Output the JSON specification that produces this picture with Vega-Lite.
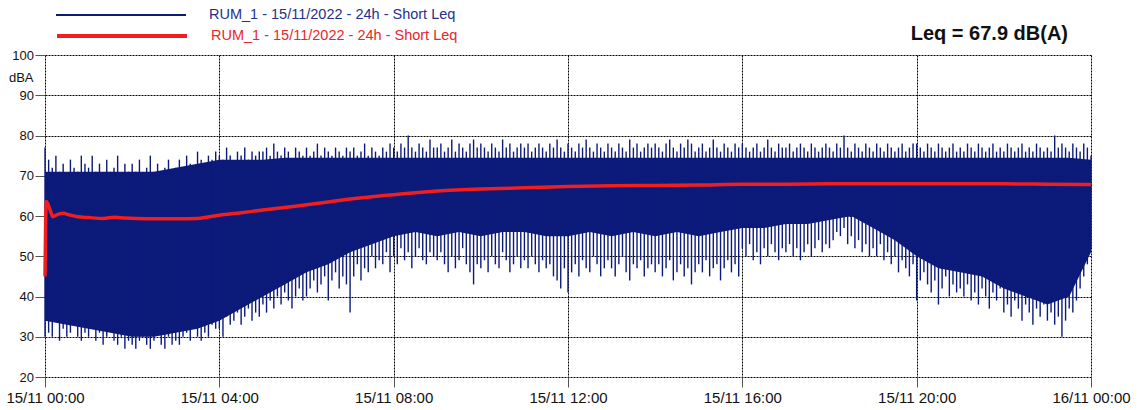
{
  "$schema": "https://vega.github.io/schema/vega-lite/v6.json",
  "autosize": "none",
  "width": 1046,
  "height": 322,
  "padding": {"left": 45, "top": 55, "right": 47, "bottom": 33},
  "background": "white",
  "title": {"text": "Leq = 67.9 dB(A)", "anchor": "end", "frame": "group", "fontSize": 20, "fontWeight": "bold", "font": "Liberation Sans", "color": "#111111", "offset": -95, "dx": -23},
  "config": {
    "view": {"stroke": null},
    "font": "Liberation Sans",
    "axis": {"domain": false, "grid": true, "gridColor": "#000000", "gridDash": [2, 1], "gridWidth": 1, "gridOpacity": 1, "tickColor": "#555555", "tickSize": 10, "labelColor": "#111111", "labelFont": "Liberation Sans"}
  },
  "datasets": {
    "core": [
      {"m": 0, "clo": 34, "chi": 71}, {"m": 30, "clo": 33, "chi": 71}, {"m": 60, "clo": 32, "chi": 71}, {"m": 90, "clo": 31, "chi": 71},
      {"m": 120, "clo": 30, "chi": 71}, {"m": 150, "clo": 30, "chi": 71}, {"m": 180, "clo": 31, "chi": 72}, {"m": 210, "clo": 32, "chi": 73},
      {"m": 240, "clo": 34, "chi": 74}, {"m": 270, "clo": 37, "chi": 74}, {"m": 300, "clo": 40, "chi": 74}, {"m": 330, "clo": 43, "chi": 74.5},
      {"m": 360, "clo": 46, "chi": 74.5}, {"m": 390, "clo": 48, "chi": 74.5}, {"m": 420, "clo": 51, "chi": 74.5}, {"m": 450, "clo": 53, "chi": 74.5},
      {"m": 480, "clo": 55, "chi": 74.5}, {"m": 510, "clo": 56, "chi": 74.5}, {"m": 540, "clo": 55, "chi": 74.5}, {"m": 570, "clo": 56, "chi": 74.5},
      {"m": 600, "clo": 55, "chi": 74.5}, {"m": 630, "clo": 56, "chi": 74.5}, {"m": 660, "clo": 56, "chi": 74.5}, {"m": 690, "clo": 55, "chi": 74.5},
      {"m": 720, "clo": 55, "chi": 74.5}, {"m": 750, "clo": 56, "chi": 74.5}, {"m": 780, "clo": 55, "chi": 74.5}, {"m": 810, "clo": 56, "chi": 74.5},
      {"m": 840, "clo": 55, "chi": 74.5}, {"m": 870, "clo": 56, "chi": 74.5}, {"m": 900, "clo": 55, "chi": 74.5}, {"m": 930, "clo": 56, "chi": 74.5},
      {"m": 960, "clo": 57, "chi": 74.5}, {"m": 990, "clo": 57, "chi": 74.5}, {"m": 1020, "clo": 58, "chi": 74.5}, {"m": 1050, "clo": 58, "chi": 74.5},
      {"m": 1080, "clo": 59, "chi": 74.5}, {"m": 1110, "clo": 60, "chi": 74.5}, {"m": 1140, "clo": 57, "chi": 74.5}, {"m": 1170, "clo": 54, "chi": 74.5},
      {"m": 1200, "clo": 50, "chi": 74.5}, {"m": 1230, "clo": 47, "chi": 74.5}, {"m": 1260, "clo": 46, "chi": 74.5}, {"m": 1290, "clo": 45, "chi": 74.5},
      {"m": 1320, "clo": 42, "chi": 74.5}, {"m": 1350, "clo": 40, "chi": 74.5}, {"m": 1380, "clo": 38, "chi": 74.5}, {"m": 1410, "clo": 40, "chi": 74.5},
      {"m": 1440, "clo": 51, "chi": 74}
    ],
    "spikes": [
      {"m": 0, "lo": 30, "hi": 77}, {"m": 5, "lo": 31, "hi": 74}, {"m": 10, "lo": 30, "hi": 72}, {"m": 15, "lo": 34, "hi": 75},
      {"m": 20, "lo": 29, "hi": 71}, {"m": 25, "lo": 32, "hi": 73}, {"m": 30, "lo": 30, "hi": 70}, {"m": 35, "lo": 31, "hi": 74},
      {"m": 40, "lo": 33, "hi": 72}, {"m": 45, "lo": 30, "hi": 71}, {"m": 50, "lo": 29, "hi": 75}, {"m": 55, "lo": 31, "hi": 73},
      {"m": 60, "lo": 30, "hi": 72}, {"m": 65, "lo": 32, "hi": 75}, {"m": 70, "lo": 29, "hi": 71}, {"m": 75, "lo": 31, "hi": 73},
      {"m": 80, "lo": 28, "hi": 70}, {"m": 85, "lo": 30, "hi": 74}, {"m": 90, "lo": 33, "hi": 71}, {"m": 95, "lo": 29, "hi": 72},
      {"m": 100, "lo": 28, "hi": 75}, {"m": 105, "lo": 30, "hi": 70}, {"m": 110, "lo": 27, "hi": 73}, {"m": 115, "lo": 29, "hi": 71},
      {"m": 120, "lo": 28, "hi": 73}, {"m": 125, "lo": 27, "hi": 71}, {"m": 130, "lo": 29, "hi": 74}, {"m": 135, "lo": 30, "hi": 70},
      {"m": 140, "lo": 28, "hi": 72}, {"m": 145, "lo": 27, "hi": 75}, {"m": 150, "lo": 29, "hi": 71}, {"m": 155, "lo": 31, "hi": 73},
      {"m": 160, "lo": 28, "hi": 70}, {"m": 165, "lo": 27, "hi": 72}, {"m": 170, "lo": 30, "hi": 74}, {"m": 175, "lo": 28, "hi": 71},
      {"m": 180, "lo": 29, "hi": 72}, {"m": 185, "lo": 28, "hi": 74}, {"m": 190, "lo": 30, "hi": 71}, {"m": 195, "lo": 31, "hi": 75},
      {"m": 200, "lo": 29, "hi": 73}, {"m": 205, "lo": 32, "hi": 72}, {"m": 210, "lo": 30, "hi": 76}, {"m": 215, "lo": 29, "hi": 74},
      {"m": 220, "lo": 31, "hi": 73}, {"m": 225, "lo": 30, "hi": 75}, {"m": 230, "lo": 33, "hi": 74}, {"m": 235, "lo": 32, "hi": 76},
      {"m": 240, "lo": 32, "hi": 75}, {"m": 245, "lo": 30, "hi": 74}, {"m": 250, "lo": 35, "hi": 77}, {"m": 255, "lo": 33, "hi": 75},
      {"m": 260, "lo": 34, "hi": 73}, {"m": 265, "lo": 36, "hi": 76}, {"m": 270, "lo": 33, "hi": 75}, {"m": 275, "lo": 35, "hi": 77},
      {"m": 280, "lo": 37, "hi": 74}, {"m": 285, "lo": 34, "hi": 76}, {"m": 290, "lo": 36, "hi": 75}, {"m": 295, "lo": 35, "hi": 76},
      {"m": 300, "lo": 38, "hi": 76}, {"m": 305, "lo": 36, "hi": 77}, {"m": 310, "lo": 39, "hi": 75}, {"m": 315, "lo": 37, "hi": 78},
      {"m": 320, "lo": 40, "hi": 76}, {"m": 325, "lo": 38, "hi": 75}, {"m": 330, "lo": 41, "hi": 77}, {"m": 335, "lo": 39, "hi": 76},
      {"m": 340, "lo": 37, "hi": 74}, {"m": 345, "lo": 40, "hi": 77}, {"m": 350, "lo": 42, "hi": 76}, {"m": 355, "lo": 39, "hi": 75},
      {"m": 360, "lo": 40, "hi": 77}, {"m": 365, "lo": 42, "hi": 75}, {"m": 370, "lo": 44, "hi": 76}, {"m": 375, "lo": 41, "hi": 78},
      {"m": 380, "lo": 43, "hi": 75}, {"m": 385, "lo": 45, "hi": 77}, {"m": 390, "lo": 39, "hi": 76}, {"m": 395, "lo": 44, "hi": 75},
      {"m": 400, "lo": 46, "hi": 77}, {"m": 405, "lo": 42, "hi": 76}, {"m": 410, "lo": 45, "hi": 75}, {"m": 415, "lo": 43, "hi": 77},
      {"m": 420, "lo": 36, "hi": 76}, {"m": 425, "lo": 45, "hi": 77}, {"m": 430, "lo": 48, "hi": 75}, {"m": 435, "lo": 44, "hi": 76},
      {"m": 440, "lo": 47, "hi": 78}, {"m": 445, "lo": 46, "hi": 75}, {"m": 450, "lo": 50, "hi": 77}, {"m": 455, "lo": 47, "hi": 76},
      {"m": 460, "lo": 49, "hi": 75}, {"m": 465, "lo": 48, "hi": 77}, {"m": 470, "lo": 51, "hi": 76}, {"m": 475, "lo": 46, "hi": 78},
      {"m": 480, "lo": 50, "hi": 77}, {"m": 485, "lo": 48, "hi": 76}, {"m": 490, "lo": 52, "hi": 78}, {"m": 495, "lo": 49, "hi": 77},
      {"m": 500, "lo": 51, "hi": 80}, {"m": 505, "lo": 47, "hi": 77}, {"m": 510, "lo": 50, "hi": 76}, {"m": 515, "lo": 52, "hi": 78},
      {"m": 520, "lo": 49, "hi": 77}, {"m": 525, "lo": 48, "hi": 76}, {"m": 530, "lo": 51, "hi": 79}, {"m": 535, "lo": 50, "hi": 77},
      {"m": 540, "lo": 49, "hi": 77}, {"m": 545, "lo": 51, "hi": 78}, {"m": 550, "lo": 48, "hi": 76}, {"m": 555, "lo": 46, "hi": 77},
      {"m": 560, "lo": 50, "hi": 79}, {"m": 565, "lo": 47, "hi": 76}, {"m": 570, "lo": 49, "hi": 78}, {"m": 575, "lo": 52, "hi": 77},
      {"m": 580, "lo": 48, "hi": 76}, {"m": 585, "lo": 46, "hi": 78}, {"m": 590, "lo": 43, "hi": 79}, {"m": 595, "lo": 48, "hi": 77},
      {"m": 600, "lo": 47, "hi": 78}, {"m": 605, "lo": 49, "hi": 77}, {"m": 610, "lo": 46, "hi": 76}, {"m": 615, "lo": 50, "hi": 78},
      {"m": 620, "lo": 48, "hi": 77}, {"m": 625, "lo": 47, "hi": 76}, {"m": 630, "lo": 51, "hi": 79}, {"m": 635, "lo": 49, "hi": 77},
      {"m": 640, "lo": 46, "hi": 78}, {"m": 645, "lo": 48, "hi": 76}, {"m": 650, "lo": 50, "hi": 77}, {"m": 655, "lo": 47, "hi": 78},
      {"m": 660, "lo": 49, "hi": 77}, {"m": 665, "lo": 47, "hi": 78}, {"m": 670, "lo": 50, "hi": 76}, {"m": 675, "lo": 48, "hi": 77},
      {"m": 680, "lo": 46, "hi": 78}, {"m": 685, "lo": 49, "hi": 77}, {"m": 690, "lo": 47, "hi": 76}, {"m": 695, "lo": 48, "hi": 78},
      {"m": 700, "lo": 45, "hi": 77}, {"m": 705, "lo": 44, "hi": 79}, {"m": 710, "lo": 42, "hi": 77}, {"m": 715, "lo": 47, "hi": 76},
      {"m": 720, "lo": 41, "hi": 78}, {"m": 725, "lo": 46, "hi": 77}, {"m": 730, "lo": 48, "hi": 76}, {"m": 735, "lo": 45, "hi": 78},
      {"m": 740, "lo": 49, "hi": 77}, {"m": 745, "lo": 47, "hi": 79}, {"m": 750, "lo": 46, "hi": 77}, {"m": 755, "lo": 50, "hi": 76},
      {"m": 760, "lo": 48, "hi": 78}, {"m": 765, "lo": 45, "hi": 77}, {"m": 770, "lo": 47, "hi": 76}, {"m": 775, "lo": 49, "hi": 78},
      {"m": 780, "lo": 47, "hi": 77}, {"m": 785, "lo": 45, "hi": 76}, {"m": 790, "lo": 48, "hi": 78}, {"m": 795, "lo": 50, "hi": 77},
      {"m": 800, "lo": 46, "hi": 76}, {"m": 805, "lo": 44, "hi": 79}, {"m": 810, "lo": 48, "hi": 77}, {"m": 815, "lo": 47, "hi": 78},
      {"m": 820, "lo": 49, "hi": 76}, {"m": 825, "lo": 45, "hi": 77}, {"m": 830, "lo": 47, "hi": 78}, {"m": 835, "lo": 48, "hi": 77},
      {"m": 840, "lo": 46, "hi": 78}, {"m": 845, "lo": 48, "hi": 77}, {"m": 850, "lo": 45, "hi": 76}, {"m": 855, "lo": 47, "hi": 78},
      {"m": 860, "lo": 49, "hi": 79}, {"m": 865, "lo": 44, "hi": 77}, {"m": 870, "lo": 46, "hi": 76}, {"m": 875, "lo": 48, "hi": 78},
      {"m": 880, "lo": 45, "hi": 77}, {"m": 885, "lo": 47, "hi": 79}, {"m": 890, "lo": 43, "hi": 78}, {"m": 895, "lo": 46, "hi": 76},
      {"m": 900, "lo": 48, "hi": 77}, {"m": 905, "lo": 46, "hi": 78}, {"m": 910, "lo": 49, "hi": 76}, {"m": 915, "lo": 45, "hi": 77},
      {"m": 920, "lo": 47, "hi": 79}, {"m": 925, "lo": 48, "hi": 77}, {"m": 930, "lo": 44, "hi": 76}, {"m": 935, "lo": 47, "hi": 78},
      {"m": 940, "lo": 49, "hi": 77}, {"m": 945, "lo": 46, "hi": 76}, {"m": 950, "lo": 48, "hi": 78}, {"m": 955, "lo": 45, "hi": 77},
      {"m": 960, "lo": 52, "hi": 78}, {"m": 965, "lo": 50, "hi": 77}, {"m": 970, "lo": 53, "hi": 76}, {"m": 975, "lo": 49, "hi": 77},
      {"m": 980, "lo": 51, "hi": 78}, {"m": 985, "lo": 48, "hi": 76}, {"m": 990, "lo": 52, "hi": 77}, {"m": 995, "lo": 50, "hi": 79},
      {"m": 1000, "lo": 53, "hi": 77}, {"m": 1005, "lo": 51, "hi": 76}, {"m": 1010, "lo": 49, "hi": 78}, {"m": 1015, "lo": 52, "hi": 77},
      {"m": 1020, "lo": 51, "hi": 77}, {"m": 1025, "lo": 53, "hi": 78}, {"m": 1030, "lo": 50, "hi": 76}, {"m": 1035, "lo": 52, "hi": 77},
      {"m": 1040, "lo": 49, "hi": 78}, {"m": 1045, "lo": 51, "hi": 77}, {"m": 1050, "lo": 53, "hi": 76}, {"m": 1055, "lo": 50, "hi": 78},
      {"m": 1060, "lo": 52, "hi": 77}, {"m": 1065, "lo": 54, "hi": 76}, {"m": 1070, "lo": 51, "hi": 77}, {"m": 1075, "lo": 53, "hi": 78},
      {"m": 1080, "lo": 52, "hi": 77}, {"m": 1085, "lo": 54, "hi": 76}, {"m": 1090, "lo": 56, "hi": 78}, {"m": 1095, "lo": 55, "hi": 77},
      {"m": 1100, "lo": 57, "hi": 80}, {"m": 1105, "lo": 53, "hi": 77}, {"m": 1110, "lo": 55, "hi": 76}, {"m": 1115, "lo": 52, "hi": 78},
      {"m": 1120, "lo": 54, "hi": 77}, {"m": 1125, "lo": 51, "hi": 76}, {"m": 1130, "lo": 53, "hi": 78}, {"m": 1135, "lo": 50, "hi": 77},
      {"m": 1140, "lo": 52, "hi": 76}, {"m": 1145, "lo": 50, "hi": 78}, {"m": 1150, "lo": 53, "hi": 77}, {"m": 1155, "lo": 49, "hi": 76},
      {"m": 1160, "lo": 51, "hi": 78}, {"m": 1165, "lo": 48, "hi": 77}, {"m": 1170, "lo": 50, "hi": 76}, {"m": 1175, "lo": 46, "hi": 77},
      {"m": 1180, "lo": 49, "hi": 78}, {"m": 1185, "lo": 47, "hi": 76}, {"m": 1190, "lo": 45, "hi": 77}, {"m": 1195, "lo": 48, "hi": 78},
      {"m": 1200, "lo": 39, "hi": 78}, {"m": 1205, "lo": 44, "hi": 77}, {"m": 1210, "lo": 46, "hi": 76}, {"m": 1215, "lo": 43, "hi": 78},
      {"m": 1220, "lo": 41, "hi": 77}, {"m": 1225, "lo": 44, "hi": 76}, {"m": 1230, "lo": 38, "hi": 78}, {"m": 1235, "lo": 42, "hi": 77},
      {"m": 1240, "lo": 45, "hi": 76}, {"m": 1245, "lo": 40, "hi": 77}, {"m": 1250, "lo": 43, "hi": 78}, {"m": 1255, "lo": 41, "hi": 76},
      {"m": 1260, "lo": 42, "hi": 77}, {"m": 1265, "lo": 40, "hi": 76}, {"m": 1270, "lo": 43, "hi": 78}, {"m": 1275, "lo": 39, "hi": 77},
      {"m": 1280, "lo": 41, "hi": 76}, {"m": 1285, "lo": 38, "hi": 78}, {"m": 1290, "lo": 42, "hi": 77}, {"m": 1295, "lo": 40, "hi": 76},
      {"m": 1300, "lo": 37, "hi": 77}, {"m": 1305, "lo": 41, "hi": 78}, {"m": 1310, "lo": 39, "hi": 76}, {"m": 1315, "lo": 42, "hi": 77},
      {"m": 1320, "lo": 36, "hi": 76}, {"m": 1325, "lo": 38, "hi": 78}, {"m": 1330, "lo": 35, "hi": 77}, {"m": 1335, "lo": 39, "hi": 76},
      {"m": 1340, "lo": 37, "hi": 77}, {"m": 1345, "lo": 34, "hi": 78}, {"m": 1350, "lo": 38, "hi": 76}, {"m": 1355, "lo": 36, "hi": 77},
      {"m": 1360, "lo": 33, "hi": 76}, {"m": 1365, "lo": 37, "hi": 78}, {"m": 1370, "lo": 35, "hi": 77}, {"m": 1375, "lo": 38, "hi": 76},
      {"m": 1380, "lo": 34, "hi": 77}, {"m": 1385, "lo": 36, "hi": 76}, {"m": 1390, "lo": 33, "hi": 80}, {"m": 1395, "lo": 35, "hi": 77},
      {"m": 1400, "lo": 30, "hi": 78}, {"m": 1405, "lo": 34, "hi": 77}, {"m": 1410, "lo": 37, "hi": 76}, {"m": 1415, "lo": 36, "hi": 78},
      {"m": 1420, "lo": 39, "hi": 77}, {"m": 1425, "lo": 42, "hi": 76}, {"m": 1430, "lo": 45, "hi": 78}, {"m": 1435, "lo": 48, "hi": 77},
      {"m": 1440, "lo": 52, "hi": 75}
    ],
    "leq": [
      {"m": 0, "v": 45}, {"m": 1, "v": 60}, {"m": 2, "v": 63.6}, {"m": 4, "v": 63}, {"m": 7, "v": 61.5},
      {"m": 11, "v": 59.8}, {"m": 16, "v": 60.3}, {"m": 25, "v": 60.7}, {"m": 33, "v": 60.3}, {"m": 45, "v": 59.8},
      {"m": 60, "v": 59.6}, {"m": 80, "v": 59.4}, {"m": 96, "v": 59.7}, {"m": 110, "v": 59.5}, {"m": 140, "v": 59.3},
      {"m": 180, "v": 59.3}, {"m": 210, "v": 59.4}, {"m": 240, "v": 60.2}, {"m": 270, "v": 60.8}, {"m": 300, "v": 61.5},
      {"m": 330, "v": 62.1}, {"m": 360, "v": 62.8}, {"m": 390, "v": 63.5}, {"m": 420, "v": 64.2}, {"m": 450, "v": 64.8},
      {"m": 480, "v": 65.3}, {"m": 510, "v": 65.8}, {"m": 540, "v": 66.2}, {"m": 600, "v": 66.7}, {"m": 660, "v": 67},
      {"m": 720, "v": 67.3}, {"m": 780, "v": 67.5}, {"m": 840, "v": 67.6}, {"m": 900, "v": 67.7}, {"m": 960, "v": 67.9},
      {"m": 1020, "v": 67.9}, {"m": 1080, "v": 68}, {"m": 1140, "v": 68}, {"m": 1200, "v": 68}, {"m": 1260, "v": 68},
      {"m": 1320, "v": 68}, {"m": 1380, "v": 67.9}, {"m": 1440, "v": 67.8}
    ]
  },
  "encoding": {
    "x": {
      "field": "m", "type": "quantitative",
      "scale": {"domain": [0, 1440], "nice": false, "zero": false},
      "axis": {"title": null, "values": [0, 240, 480, 720, 960, 1200, 1440], "labelExpr": "['15/11 00:00', '15/11 04:00', '15/11 08:00', '15/11 12:00', '15/11 16:00', '15/11 20:00', '16/11 00:00'][round(datum.value / 240)]", "labelFontSize": 15, "labelPadding": 3, "labelFlush": false, "labelOverlap": false}
    }
  },
  "layer": [
    {
      "data": {"name": "core"},
      "mark": {"type": "area", "color": "#0c1a7a", "interpolate": "linear"},
      "encoding": {
        "y": {
          "field": "clo", "type": "quantitative",
          "scale": {"domain": [20, 100], "nice": false, "zero": false},
          "axis": {"values": [20, 30, 40, 50, 60, 70, 80, 90, 100], "labelFontSize": 13, "labelPadding": 1.5, "title": "dBA", "titleAngle": 0, "titleX": -12, "titleY": 22, "titleAlign": "right", "titleBaseline": "middle", "titleFontWeight": "normal", "titleFontSize": 13, "titleColor": "#111111", "titleFont": "Liberation Sans"}
        },
        "y2": {"field": "chi"}
      }
    },
    {
      "data": {"name": "spikes"},
      "mark": {"type": "rule", "strokeWidth": 1.4},
      "encoding": {
        "y": {
          "field": "lo", "type": "quantitative",
          "axis": {"values": [20, 30, 40, 50, 60, 70, 80, 90, 100], "labelFontSize": 13, "labelPadding": 1.5, "title": "dBA", "titleAngle": 0, "titleX": -12, "titleY": 22, "titleAlign": "right", "titleBaseline": "middle", "titleFontWeight": "normal", "titleFontSize": 13, "titleColor": "#111111", "titleFont": "Liberation Sans"}
        },
        "y2": {"field": "hi"},
        "stroke": {
          "datum": "short", "type": "nominal",
          "scale": {"domain": ["short"], "range": ["#0c1a7a"]},
          "legend": {
            "orient": "none", "legendX": 10, "legendY": -106, "title": null,
            "symbolType": "stroke", "symbolSize": 16900, "symbolStrokeWidth": 2,
            "labelFontSize": 14.5, "labelFont": "Liberation Sans", "labelColor": "#24318c", "labelOffset": 22, "labelLimit": 600,
            "labelExpr": "'RUM_1 - 15/11/2022 - 24h - Short Leq'"
          }
        }
      }
    },
    {
      "data": {"name": "leq"},
      "mark": {"type": "line", "strokeWidth": 3.5, "interpolate": "monotone"},
      "encoding": {
        "y": {
          "field": "v", "type": "quantitative",
          "axis": {"values": [20, 30, 40, 50, 60, 70, 80, 90, 100], "labelFontSize": 13, "labelPadding": 1.5, "title": "dBA", "titleAngle": 0, "titleX": -12, "titleY": 22, "titleAlign": "right", "titleBaseline": "middle", "titleFontWeight": "normal", "titleFontSize": 13, "titleColor": "#111111", "titleFont": "Liberation Sans"}
        },
        "color": {
          "datum": "running", "type": "nominal",
          "scale": {"domain": ["running"], "range": ["#f01e1e"]},
          "legend": {
            "orient": "none", "legendX": 10, "legendY": -86, "title": null,
            "symbolType": "stroke", "symbolSize": 16900, "symbolStrokeWidth": 4,
            "labelFontSize": 14.5, "labelFont": "Liberation Sans", "labelColor": "#e8262b", "labelOffset": 22, "labelLimit": 600,
            "labelExpr": "'RUM_1 - 15/11/2022 - 24h - Short Leq'"
          }
        }
      }
    }
  ]
}
